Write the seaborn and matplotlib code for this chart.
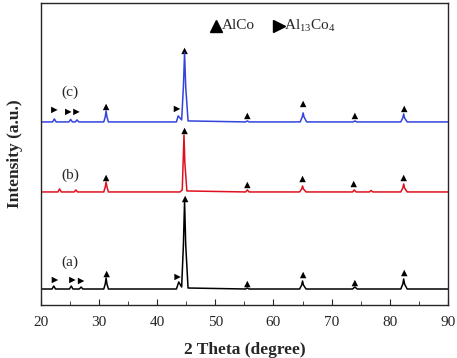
import numpy as np
import pandas as pd
import seaborn as sns
import matplotlib.pyplot as plt

# XRD patterns (offset, arbitrary units), vertices
a_x = [20, 21.9, 22.2, 22.5, 24.9, 25.2, 25.5, 26.6, 26.9, 27.2, 30.8, 31.05, 31.2, 31.35, 31.6,
       43.3, 43.7, 44.2, 44.5, 44.7, 44.9, 45.3, 55.2, 55.5, 55.8, 64.5, 64.85, 65.0, 65.15, 65.6,
       73.6, 74.0, 74.4, 81.9, 82.25, 82.4, 82.55, 83.0, 90]
a_y = [16, 16, 19, 16, 16, 19, 16, 16, 18, 16, 16, 21, 27, 21, 16,
       16, 23, 18, 60, 104, 60, 17, 16, 17, 16, 16, 20, 24, 20, 16,
       16, 18, 16, 16, 21, 26, 21, 16, 16]

b_x = [20, 22.9, 23.2, 23.5, 25.7, 26.0, 26.3, 30.8, 31.05, 31.2, 31.35, 31.6,
       43.9, 44.3, 44.45, 44.6, 44.75, 45.1, 55.2, 55.5, 55.8, 64.5, 64.85, 65.0, 65.15, 65.6,
       73.6, 73.9, 74.2, 76.5, 76.8, 77.1, 81.9, 82.25, 82.4, 82.55, 83.0, 90]
b_y = [113, 113, 116, 113, 113, 115, 113, 113, 118, 123, 118, 113,
       113, 115, 142, 170, 142, 114, 113, 115, 113, 113, 116, 119, 116, 113,
       113, 115, 113, 113, 114.5, 113, 113, 117, 121, 117, 113, 113]

c_x = [20, 22.0, 22.3, 22.6, 24.8, 25.1, 25.4, 25.9, 26.2, 26.5, 30.8, 31.05, 31.2, 31.35, 31.6,
       43.3, 43.6, 44.2, 44.5, 44.7, 44.9, 45.3, 55.2, 55.5, 55.8, 64.6, 64.95, 65.1, 65.25, 65.7,
       73.7, 74.0, 74.3, 81.9, 82.25, 82.4, 82.55, 83.0, 90]
c_y = [183, 183, 186, 183, 183, 185.5, 183, 183, 185, 183, 183, 188, 194, 188, 183,
       183, 189, 185, 218, 252, 218, 184, 183, 184, 183, 183, 188, 192, 188, 183,
       183, 184, 183, 183, 187, 191, 187, 183, 183]

# phase markers
a_alco_x = [31.3, 44.8, 55.5, 65.1, 74.0, 82.5]
a_alco_y = [31, 106, 21, 30, 22, 32]
a_al13_x = [22.4, 25.4, 26.9, 43.5]
a_al13_y = [25, 25, 24, 28]
b_alco_x = [31.2, 44.7, 55.5, 65.0, 73.8, 82.4]
b_alco_y = [127, 174, 120, 126, 121, 127]
c_alco_x = [31.2, 44.7, 55.5, 65.1, 74.0, 82.5]
c_alco_y = [198, 254, 189, 201, 189, 196]
c_al13_x = [22.3, 24.7, 26.1, 43.4]
c_al13_y = [195, 193, 193, 196]

sample_labels = ['(a)', '(b)', '(c)']
label_y = [43, 130, 213]

sns.set_style('ticks')
plt.rcParams['font.family'] = ['Liberation Serif', 'DejaVu Serif']
plt.rcParams['mathtext.fontset'] = 'custom'
plt.rcParams['mathtext.rm'] = 'Liberation Serif'
plt.rcParams['mathtext.it'] = 'Liberation Serif'

fig, ax = plt.subplots(figsize=(4.57, 3.58), dpi=100)
fig.subplots_adjust(left=0.0897, right=0.980, top=0.992, bottom=0.148)

for xs, ys, col in [(a_x, a_y, 'black'), (b_x, b_y, '#e0101e'), (c_x, c_y, '#3344dd')]:
    sns.lineplot(x=xs, y=ys, sort=False, color=col, lw=1.1, ax=ax)

for xs, ys in [(a_alco_x, a_alco_y), (b_alco_x, b_alco_y), (c_alco_x, c_alco_y)]:
    sns.scatterplot(x=xs, y=ys, marker='^', color='black', s=22, edgecolor='none', ax=ax)
for xs, ys in [(a_al13_x, a_al13_y), (c_al13_x, c_al13_y)]:
    sns.scatterplot(x=xs, y=ys, marker='>', color='black', s=22, edgecolor='none', ax=ax)

for lab, ly in zip(sample_labels, label_y):
    ax.text(25.0, ly, lab, ha='center', va='center', fontsize=11)

# phase key at the top
ax.plot([50.1], [279], marker='^', color='black', ms=8, ls='none')
ax.text(51.1, 279, 'AlCo', ha='left', va='center', fontsize=11)
ax.plot([60.9], [279], marker='>', color='black', ms=8, ls='none')
ax.text(61.8, 279, r'Al$_\mathrm{13}$Co$_\mathrm{4}$', ha='left', va='center', fontsize=11)

ax.set_xlim(20, 90)
ax.set_ylim(0, 302)
ax.set_xticks(np.arange(20, 91, 10))
ax.set_xticks(np.arange(25, 90, 10), minor=True)
ax.set_yticks([])
ax.tick_params(axis='x', which='both', direction='in', labelsize=11, pad=8)
ax.tick_params(axis='x', which='major', length=4)
ax.tick_params(axis='x', which='minor', length=3)
for sp in ax.spines.values():
    sp.set_visible(True)
    sp.set_linewidth(1.0)

ax.set_xlabel('2 Theta (degree)', fontsize=12.5, fontweight='bold', labelpad=9)
ax.set_ylabel('Intensity (a.u.)', fontsize=12.5, fontweight='bold', labelpad=13)

fig.savefig('out.png', dpi=100)
